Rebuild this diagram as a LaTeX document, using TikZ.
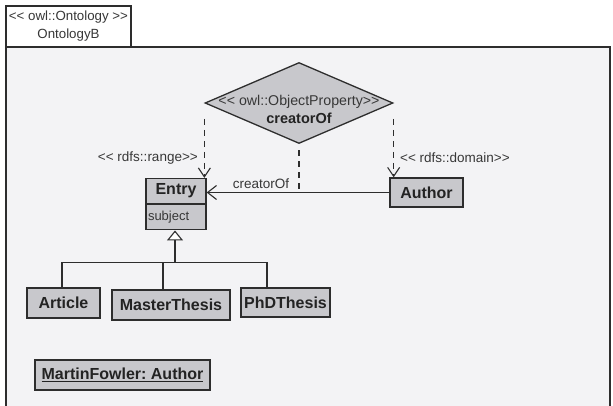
\documentclass[tikz,border=0pt]{standalone}
\usepackage{fontspec}
\setmainfont{Liberation Sans}
\usetikzlibrary{arrows.meta,shapes.geometric}
\definecolor{boxgray}{RGB}{200,200,204}
\definecolor{linegray}{RGB}{45,45,45}
\definecolor{txtgray}{RGB}{55,55,55}
\definecolor{boldtxt}{RGB}{35,35,35}
\definecolor{pagebg}{RGB}{243,243,245}
\newcommand{\stl}{<{}<}
\newcommand{\str}{>{}>}
\frenchspacing
\tikzset{
  classbox/.style={draw=linegray, line width=1.3pt, fill=boxgray, inner sep=0pt,
    font=\fontsize{16}{18}\selectfont\bfseries, text=boldtxt},
  conn/.style={draw=linegray, line width=1.1pt},
  dep/.style={conn, dashed, dash pattern=on 6pt off 5pt, -{Straight Barb[length=9pt,width=12pt,line width=1.1pt]}},
  assoc/.style={conn, -{Straight Barb[length=9pt,width=14pt,line width=1.1pt]}},
  gen/.style={conn, -{Triangle[open,length=10pt,width=16pt,fill=white,line width=1.1pt]}},
  stereo/.style={font=\fontsize{13.5}{15}\selectfont, text=txtgray, inner sep=0pt}
}
\begin{document}
\begin{tikzpicture}[x=1pt,y=-1pt]
\useasboundingbox (0,0) rectangle (613,406);
\fill[white] (0,0) rectangle (613,406);

% package frame with its name tab
\fill[pagebg] (6,47) rectangle (610,406);
\draw[linegray, line width=1.3pt] (6,406) -- (6,47) -- (610,47) -- (610,406);
\node[draw=linegray, line width=1.3pt, fill=white, minimum width=125pt, minimum height=41pt,
      inner sep=0pt, align=center, font=\fontsize{13.3}{18}\selectfont, text=txtgray]
      (tab) at (68.5,26.5) {\stl{} owl::Ontology \str\\OntologyB};

% object property
\node[diamond, draw=linegray, line width=1.3pt, fill=boxgray, minimum width=188pt,
      minimum height=81pt, inner sep=0pt] (dia) at (299,103) {};
\node[align=center, inner sep=0pt, text=txtgray, font=\fontsize{14.2}{18}\selectfont]
      (dialabel) at (299,109) {\stl{} owl::ObjectProperty\str\\\fontsize{14.5}{18}\selectfont\bfseries\color{boldtxt}creatorOf};

% classes
\node[classbox, minimum width=60pt, minimum height=25pt] (entry) at (176,191) {Entry};
\node[classbox, minimum width=60pt, minimum height=25pt, anchor=north,
      font=\fontsize{13}{15}\selectfont, text=txtgray, text width=56pt, align=left] (entryattr) at (entry.south) {subject};
\node[classbox, minimum width=73pt, minimum height=29pt] (author) at (426.5,192.5) {Author};
\node[classbox, minimum width=73pt, minimum height=30pt] (article) at (63.5,303) {Article};
\node[classbox, minimum width=118pt, minimum height=30pt] (master) at (171,305) {MasterThesis};
\node[classbox, minimum width=89pt, minimum height=29pt] (phd) at (285.5,302.5) {PhDThesis};
\node[classbox, minimum width=175pt, minimum height=30pt] (martin) at (122.5,375) {\underline{MartinFowler: Author}};

% property relations
\draw[dep] ([yshift=-16pt]dia.west) -- (dia.west |- entry.north);
\draw[dep] ([yshift=-16pt]dia.east) -- (dia.east |- author.north);
\node[stereo, anchor=east] (rangelbl) at (198,158) {\stl{} rdfs::range\str};
\node[stereo, anchor=west] (domainlbl) at (400,158) {\stl{} rdfs::domain\str};
\draw[assoc] (author.west) -- (author.west -| entry.east);
\node[stereo, anchor=south] (assoclbl) at (261,189) {creatorOf};
\draw[conn, dashed, dash pattern=on 6pt off 5pt] ([yshift=-6pt]dia.south) -- (dia.south |- author.west);

% subclass tree
\draw[conn] ([xshift=-1.5pt]article.north) -- ++(0,-25) coordinate (hl) -| ([xshift=-18.5pt]phd.north);
\draw[conn] ([xshift=-8pt]master.north) -- ([xshift=-8pt]master.north |- hl);
\draw[gen] ([xshift=-1pt]entryattr.south |- hl) -- ([xshift=-1pt]entryattr.south);
\end{tikzpicture}
\end{document}
